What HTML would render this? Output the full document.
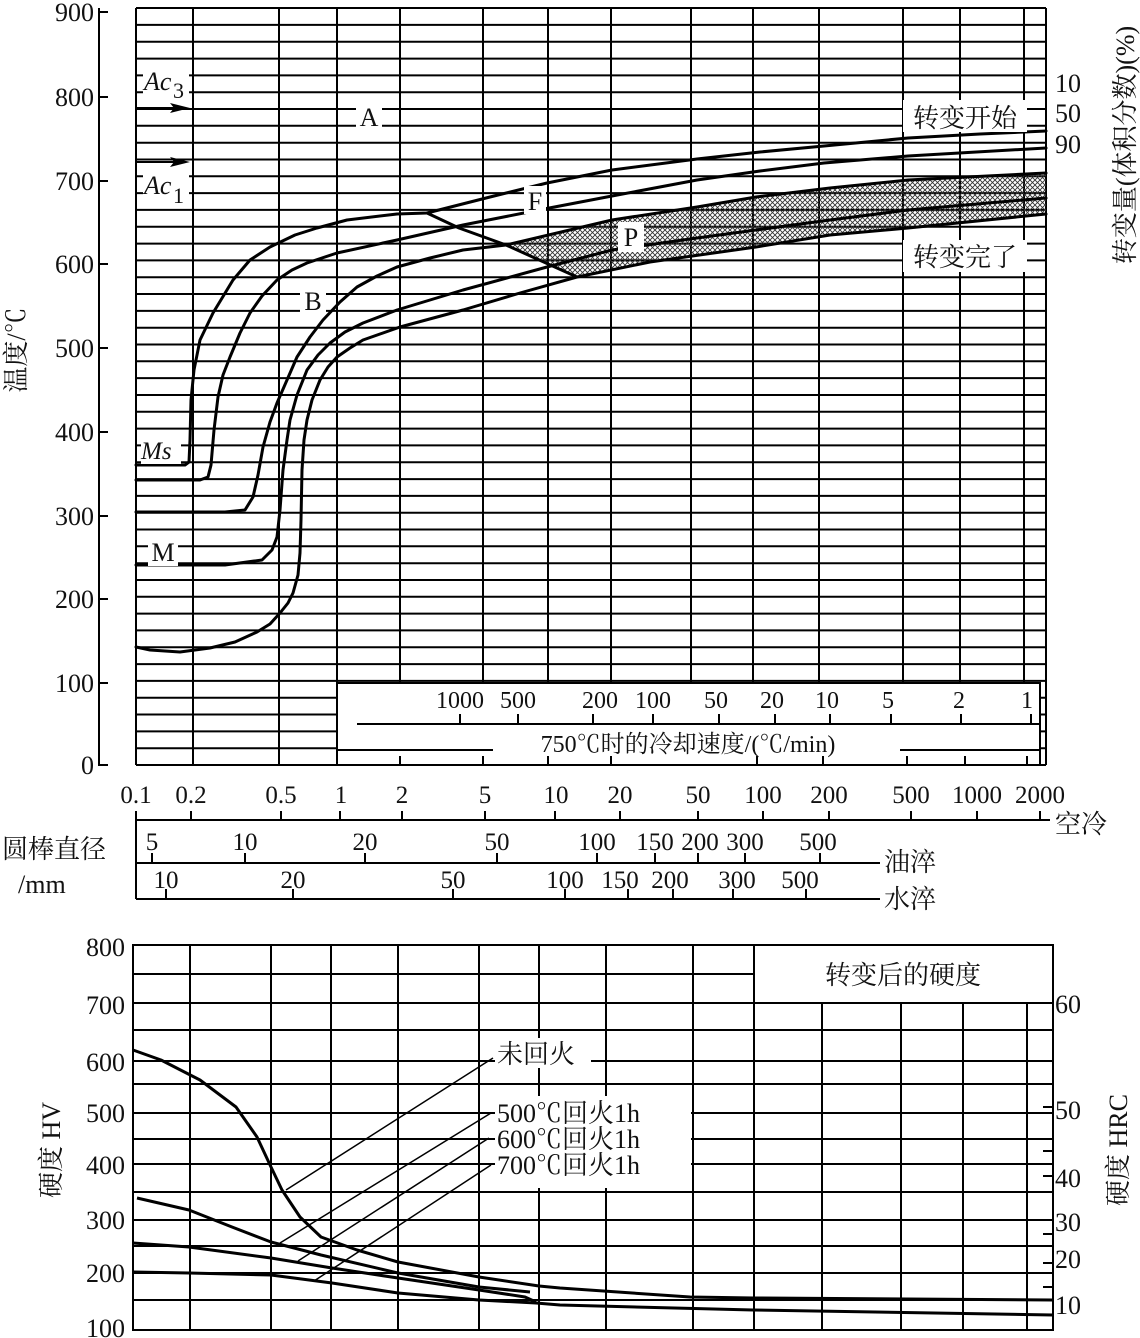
<!DOCTYPE html>
<html><head><meta charset="utf-8"><style>
html,body{margin:0;padding:0;background:#fff;}
svg{display:block;}
text{font-family:"Liberation Serif","Noto Serif CJK SC","Noto Sans CJK SC",serif;fill:#111;}
</style></head><body>
<svg width="1140" height="1338" viewBox="0 0 1140 1338" xmlns="http://www.w3.org/2000/svg">
<defs>
<pattern id="hx" width="5" height="5" patternUnits="userSpaceOnUse">
<path d="M0,0 L5,5 M5,0 L0,5" stroke="#333" stroke-width="0.9"/>
</pattern>
</defs>
<!-- ===== TOP CHART ===== -->
<g stroke="#000" stroke-width="2" fill="none" id="hgrid">
<script type="text/javascript"></script>
</g>
<g stroke="#000" stroke-width="2">
<!-- horizontal grid lines -->
<path d="M136,765H1046 M136,748.2H1046 M136,731.4H1046 M136,714.5H1046 M136,697.7H1046 M136,680.9H1046 M136,664.1H1046 M136,647.3H1046 M136,630.4H1046 M136,613.6H1046 M136,596.8H1046 M136,580H1046 M136,563.2H1046 M136,546.3H1046 M136,529.5H1046 M136,512.7H1046 M136,495.9H1046 M136,479.1H1046 M136,462.2H1046 M136,445.4H1046 M136,428.6H1046 M136,411.8H1046 M136,395H1046 M136,378.1H1046 M136,361.3H1046 M136,344.5H1046 M136,327.7H1046 M136,310.9H1046 M136,294H1046 M136,277.2H1046 M136,260.4H1046 M136,243.6H1046 M136,226.8H1046 M136,209.9H1046 M136,193.1H1046 M136,176.3H1046 M136,159.5H1046 M136,142.7H1046 M136,125.8H1046 M136,109H1046 M136,92.2H1046 M136,75.4H1046 M136,58.6H1046 M136,41.7H1046 M136,24.9H1046 M136,8H1046"/>
<!-- vertical grid -->
<path d="M136,8V765 M193,8V765 M279,8V765 M337,8V765 M400,8V765 M483,8V765 M548,8V765 M611,8V765 M691,8V765 M753,8V765 M819,8V765 M903,8V765 M960,8V765 M1024,8V765 M1046,8V765"/>
</g>
<!-- cooling rate inset box -->
<rect x="338" y="684" width="702" height="80" fill="#fff"/>
<g stroke="#000" stroke-width="2" fill="none">
<path d="M337,683H1040V765 M337,683V765"/>
<path d="M357,724H1040"/>
<path d="M337,750H493 M900,750H1040"/>
<path d="M460,724v-10 M518,724v-10 M593,724v-10 M653,724v-10 M719,724v-10 M775,724v-10 M830,724v-10 M891,724v-10 M961,724v-10 M1031,724v-10"/>
<path d="M400,765v-9 M483,765v-9 M548,765v-9 M611,765v-9 M757,765v-9 M823,765v-9 M907,765v-9 M965,765v-9 M1027,765v-9"/>
</g>
<g font-size="24" text-anchor="middle">
<text x="460" y="708">1000</text><text x="518" y="708">500</text><text x="600" y="708">200</text><text x="653" y="708">100</text><text x="716" y="708">50</text><text x="772" y="708">20</text><text x="827" y="708">10</text><text x="888" y="708">5</text><text x="959" y="708">2</text><text x="1027" y="708">1</text>
<text x="688" y="752">750℃时的冷却速度/(℃/min)</text>
</g>
<!-- hatch -->
<path d="M506,245 L612,220 L697,207 L756,197 L830,188 L908,180 L1046,173 L1046,214 L908,228 L830,235 L756,247 L650,262 L577,277 Z" fill="url(#hx)" stroke="none"/>
<!-- curves -->
<g stroke="#000" stroke-width="3" fill="none" stroke-linejoin="round" stroke-linecap="round">
<polyline points="136,465 185,465 189,462 190,440 191,400 194,370 200,340 213,313 233,280 250,260 270,247 295,235 317,228 347,220 397,214 427,213 490,197 547,183 612,170 697,159 760,152 824,146 908,138 980,134 1046,131"/>
<polyline points="427,213 459,228 506,245 577,277"/>
<polyline points="136,480 200,480 208,477 211,465 214,430 218,397 223,375 230,357 240,333 250,313 262,296 277,280 292,270 307,263 337,253 397,240 463,225 544,209 612,196 697,180 760,171 824,163 908,156 1046,148"/>
<polyline points="136,512 225,512 245,510 253,497 258,475 263,447 270,422 277,403 287,380 297,357 310,337 323,320 340,302 357,287 377,276 397,267 430,258 463,250 506,245 612,220 697,207 756,197 830,188 908,180 1046,173"/>
<polyline points="136,565 225,565 262,560 272,550 277,537 280,510 283,470 287,440 290,420 297,395 307,370 318,355 330,343 345,332 363,323 397,310 463,290 547,267 612,250 697,238 756,230 830,220 908,210 1046,198"/>
<polyline points="136,647 150,650 180,652 210,648 235,642 257,632 270,624 280,613 288,603 293,593 298,575 300,553 301,520 302,470 304,440 307,420 312,400 320,380 328,367 337,357 350,348 363,340 400,327 463,310 520,293 577,277 650,262 756,247 830,235 908,228 1046,214"/>
</g>
<!-- arrows Ac3 Ac1 -->
<g stroke="#000" stroke-width="2">
<path d="M137,108H186 M137,162H186"/>
</g>
<path d="M190,108 L170,103 L174,108 L170,113 Z M190,162 L170,157 L174,162 L170,167 Z" fill="#000"/>
<!-- label backgrounds -->
<g fill="#fff">
<rect x="143" y="66" width="46" height="34"/>
<rect x="143" y="168" width="46" height="36"/>
<rect x="356" y="102" width="26" height="28"/>
<rect x="300" y="286" width="26" height="28"/>
<rect x="524" y="186" width="22" height="28"/>
<rect x="618" y="222" width="26" height="30"/>
<rect x="141" y="436" width="40" height="28"/>
<rect x="148" y="538" width="30" height="28"/>
<rect x="903" y="100" width="124" height="32"/>
<rect x="903" y="240" width="124" height="32"/>
</g>
<g font-size="26">
<text x="144" y="90" font-style="italic">Ac</text><text x="173" y="98" font-size="22">3</text>
<text x="144" y="194" font-style="italic">Ac</text><text x="173" y="203" font-size="22">1</text>
<text x="369" y="126" text-anchor="middle">A</text>
<text x="313" y="310" text-anchor="middle">B</text>
<text x="535" y="210" text-anchor="middle">F</text>
<text x="631" y="246" text-anchor="middle">P</text>
<text x="141" y="459" font-style="italic" font-size="25">Ms</text>
<text x="163" y="561" text-anchor="middle">M</text>
<text x="965" y="127" text-anchor="middle">转变开始</text>
<text x="965" y="266" text-anchor="middle">转变完了</text>
<text x="1055" y="92">10</text><text x="1055" y="122">50</text><text x="1055" y="153">90</text>
<text transform="translate(1134,145) rotate(-90)" text-anchor="middle">转变量(体积分数)(%)</text>
<text transform="translate(25,350) rotate(-90)" text-anchor="middle">温度/℃</text>
</g>
<!-- left temperature axis -->
<g stroke="#000" stroke-width="2">
<path d="M99,8V766 M99,12H108 M99,97H108 M99,181H108 M99,264H108 M99,348H108 M99,432H108 M99,516H108 M99,599H108 M99,683H108 M99,765H108"/>
</g>
<g font-size="26" text-anchor="end">
<text x="94" y="21">900</text><text x="94" y="106">800</text><text x="94" y="190">700</text><text x="94" y="273">600</text><text x="94" y="357">500</text><text x="94" y="441">400</text><text x="94" y="525">300</text><text x="94" y="608">200</text><text x="94" y="692">100</text><text x="94" y="774">0</text>
</g>
<!-- time axis -->
<g stroke="#000" stroke-width="2">
<path d="M136,820H1050 M136,863H880 M136,899H880 M136,820V899"/>
<path d="M136,820v-9 M191,820v-9 M281,820v-9 M340,820v-9 M402,820v-9 M485,820v-9 M555,820v-9 M620,820v-9 M698,820v-9 M763,820v-9 M829,820v-9 M911,820v-9 M977,820v-9 M1040,820v-9"/>
<path d="M152,863v-10 M245,863v-10 M365,863v-10 M497,863v-10 M597,863v-10 M655,863v-10 M698,863v-10 M745,863v-10 M820,863v-10"/>
<path d="M166,899v-10 M293,899v-10 M453,899v-10 M565,899v-10 M628,899v-10 M673,899v-10 M733,899v-10 M806,899v-10"/>
</g>
<g font-size="25" text-anchor="middle">
<text x="136" y="803">0.1</text><text x="191" y="803">0.2</text><text x="281" y="803">0.5</text><text x="341" y="803">1</text><text x="402" y="803">2</text><text x="485" y="803">5</text><text x="556" y="803">10</text><text x="620" y="803">20</text><text x="698" y="803">50</text><text x="763" y="803">100</text><text x="829" y="803">200</text><text x="911" y="803">500</text><text x="977" y="803">1000</text><text x="1040" y="803">2000</text>
<text x="152" y="850">5</text><text x="245" y="850">10</text><text x="365" y="850">20</text><text x="497" y="850">50</text><text x="597" y="850">100</text><text x="655" y="850">150</text><text x="700" y="850">200</text><text x="745" y="850">300</text><text x="818" y="850">500</text>
<text x="166" y="888">10</text><text x="293" y="888">20</text><text x="453" y="888">50</text><text x="565" y="888">100</text><text x="620" y="888">150</text><text x="670" y="888">200</text><text x="737" y="888">300</text><text x="800" y="888">500</text>
</g>
<g font-size="26">
<text x="1055" y="833">空冷</text>
<text x="884" y="871">油淬</text>
<text x="884" y="908">水淬</text>
<text x="2" y="858">圆棒直径</text>
<text x="18" y="893">/mm</text>
</g>
<!-- ===== BOTTOM CHART ===== -->
<g stroke="#000" stroke-width="2" fill="none">
<path d="M133,974H754 M133,1003H1053 M133,1030H1053 M133,1061H1053 M133,1084H1053 M133,1113H1053 M133,1139H1053 M133,1164H1053 M133,1192H1053 M133,1220H1053 M133,1246H1053 M133,1273H1053 M133,1300H1053"/>
<path d="M190,945V1330 M271,945V1330 M331,945V1330 M398,945V1330 M479,945V1330 M539,945V1330 M606,945V1330 M693,945V1330 M754,945V1330 M822,1003V1330 M901,1003V1330 M963,1003V1330 M1027,1003V1330"/>
<rect x="133" y="945" width="920" height="385"/>
<path d="M1043,1107H1053 M1043,1151H1053 M1043,1176H1053 M1043,1234H1053 M1043,1263H1053 M1043,1287H1053"/>
</g>
<g fill="#fff">
<rect x="495" y="1038" width="96" height="30"/>
<rect x="495" y="1096" width="196" height="92"/>
</g>
<g stroke="#000" stroke-width="1.5" fill="none">
<path d="M493,1058L286,1190 M491,1113L280,1243 M489,1138L298,1261 M491,1165L314,1281"/>
</g>
<g stroke="#000" stroke-width="3" fill="none" stroke-linejoin="round">
<polyline points="133,1050 161,1060 200,1080 236,1107 257,1137 271,1167 282,1190 300,1217 321,1237 357,1250 398,1262 479,1277 539,1286 560,1288 690,1297 754,1298 1053,1300"/>
<polyline points="137,1198 189,1210 232,1227 271,1242 321,1255 398,1273 479,1287 530,1292"/>
<polyline points="133,1243 189,1247 271,1258 332,1268 398,1278 479,1290 525,1297 536,1302"/>
<polyline points="133,1272 189,1273 271,1275 332,1283 398,1293 479,1300 536,1303 560,1305 753,1310 1053,1315"/>
</g>
<g font-size="26">
<text x="497" y="1063">未回火</text>
<text x="497" y="1122">500℃回火1h</text>
<text x="497" y="1148">600℃回火1h</text>
<text x="497" y="1174">700℃回火1h</text>
<text x="903" y="984" text-anchor="middle">转变后的硬度</text>
</g>
<g font-size="26" text-anchor="end">
<text x="125" y="956">800</text><text x="125" y="1014">700</text><text x="125" y="1071">600</text><text x="125" y="1122">500</text><text x="125" y="1174">400</text><text x="125" y="1229">300</text><text x="125" y="1282">200</text><text x="125" y="1337">100</text>
</g>
<g font-size="26">
<text x="1055" y="1013">60</text><text x="1055" y="1119">50</text><text x="1055" y="1187">40</text><text x="1055" y="1231">30</text><text x="1055" y="1268">20</text><text x="1055" y="1314">10</text>
<text transform="translate(60,1150) rotate(-90)" text-anchor="middle">硬度  HV</text>
<text transform="translate(1127,1150) rotate(-90)" text-anchor="middle">硬度  HRC</text>
</g>
</svg>
</body></html>
